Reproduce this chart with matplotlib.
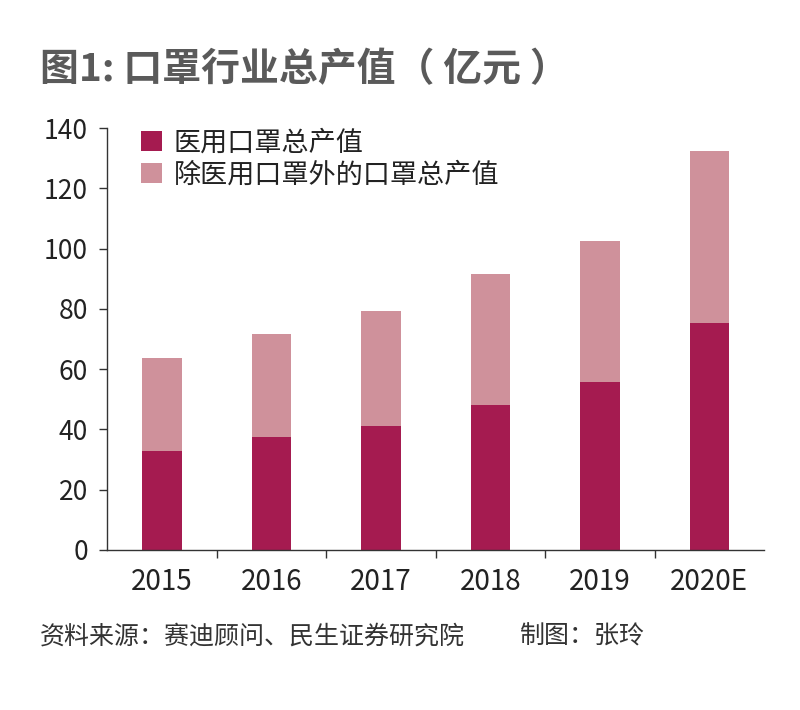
import matplotlib
matplotlib.use("Agg")
import matplotlib.pyplot as plt
import numpy as np

plt.rcParams['font.family'] = ['Noto Sans CJK SC', 'DejaVu Sans']

years = ["2015", "2016", "2017", "2018", "2019", "2020E"]
medical = [32.8, 37.4, 41.0, 48.1, 55.6, 75.3]
other = [30.8, 34.1, 38.3, 43.4, 46.9, 57.1]
legend_labels = ["医用口罩总产值", "除医用口罩外的口罩总产值"]
yticks = [0, 20, 40, 60, 80, 100, 120, 140]

c_dark = "#A51B50"
c_light = "#CF919B"
c_axis = "#333333"

fig = plt.figure(figsize=(8.0, 7.1), dpi=100)
ax = fig.add_axes([0.134, 0.2254, 0.821, 0.5943])

x = np.arange(len(years))
w = 0.36
ax.bar(x, medical, width=w, color=c_dark, label=legend_labels[0])
ax.bar(x, other, width=w, bottom=medical, color=c_light, label=legend_labels[1])

ax.set_xlim(-0.5, 5.5)
ax.set_ylim(0, 140)
ax.set_yticks(yticks)
ax.set_yticklabels([str(v) for v in yticks])
ax.set_xticks(x)
ax.set_xticklabels(years)
ax.set_xticks(np.arange(0.5, 5.0, 1.0), minor=True)
ax.tick_params(axis='x', which='major', length=0, pad=12, labelsize=20, labelcolor="#222222")
ax.tick_params(axis='x', which='minor', length=6, width=1, color=c_axis, direction='out')
ax.tick_params(axis='y', which='major', length=6, width=1, color=c_axis, pad=8, labelsize=19, labelcolor="#222222")

for s in ['top', 'right']:
    ax.spines[s].set_visible(False)
for s in ['left', 'bottom']:
    ax.spines[s].set_color(c_axis)
    ax.spines[s].set_linewidth(1.0)

leg = ax.legend(loc='upper left', bbox_to_anchor=(0.015, 1.055), frameon=False,
                prop={'size': 19.5}, handlelength=0.75, handleheight=0.75,
                handletextpad=0.45, labelspacing=0.2, labelcolor="#222222")

fig.text(0.05, 0.902, "图1: 口罩行业总产值（ 亿元 ）", fontsize=28, fontweight='bold',
         color="#5a5a5a", ha='left', va='center')
fig.text(0.05, 0.103, "资料来源：赛迪顾问、民生证券研究院", fontsize=18,
         color="#333333", ha='left', va='center')
fig.text(0.65, 0.103, "制图：张玲", fontsize=18,
         color="#333333", ha='left', va='center')

fig.savefig("out.png", dpi=100, facecolor='white')
